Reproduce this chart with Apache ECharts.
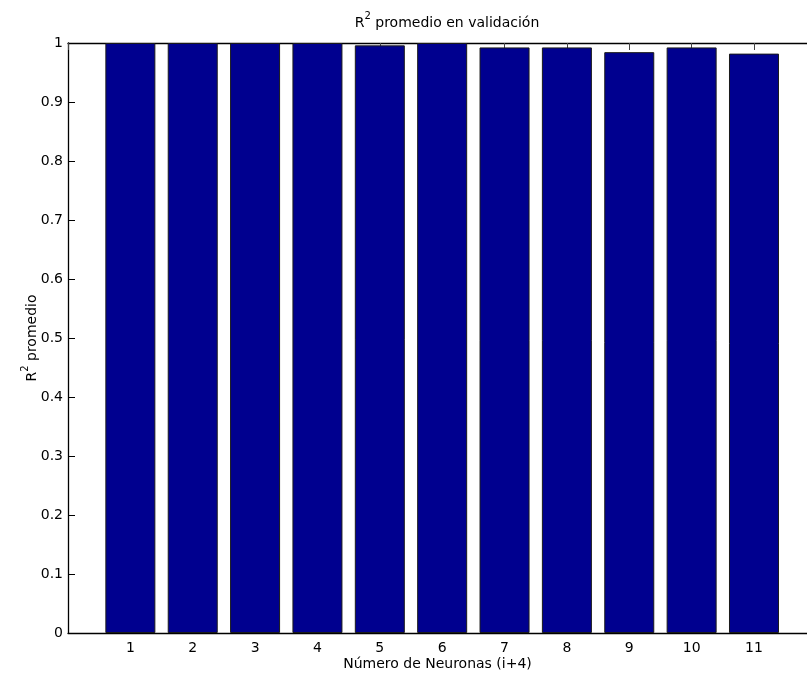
<!DOCTYPE html>
<html>
<head>
<meta charset="utf-8">
<script src="https://cdn.jsdelivr.net/npm/echarts@6/dist/echarts.min.js"></script>
<style>
  html, body { margin: 0; padding: 0; background: #fff; }
  #chart { width: 807px; height: 679px; }
</style>
</head>
<body>
<div id="chart"></div>
<script>
// Mean validation R² for each network size (neurons = i + 4)
const neuronIndex = [1, 2, 3, 4, 5, 6, 7, 8, 9, 10, 11];
const meanR2 = [1.0, 1.0, 1.0, 1.0, 0.996, 1.0, 0.9925, 0.9925, 0.9845, 0.9925, 0.982];
const yTicks = [0, 0.1, 0.2, 0.3, 0.4, 0.5, 0.6, 0.7, 0.8, 0.9, 1];

const FONT = "'DejaVu Sans', 'Liberation Sans', Arial, sans-serif";
const FS = 14;
const chart = echarts.init(document.getElementById('chart'), null, { renderer: 'canvas' });

const barData = neuronIndex.map((n, i) => [n, meanR2[i]]);

// x range runs past the right edge of the canvas, so the right frame is cut off
const X_MAX = 11.85;

const richR2 = {
  r: { fontFamily: FONT, fontSize: FS, color: '#000', fontWeight: 'normal', verticalAlign: 'bottom', lineHeight: 19 },
  s: { fontFamily: FONT, fontSize: 10, color: '#000', fontWeight: 'normal', verticalAlign: 'top', lineHeight: 19 }
};

chart.setOption({
  animation: false,
  backgroundColor: '#ffffff',
  textStyle: { fontFamily: FONT, color: '#000' },
  title: {
    text: '{r|R}{s|2}{r| promedio en validación}',
    left: 442,
    textAlign: 'center',
    top: 6,
    textStyle: { rich: richR2 }
  },
  grid: { left: 68, top: 43, right: 0, bottom: 46, containLabel: false },
  xAxis: [
    {
      type: 'value',
      position: 'bottom',
      min: 0,
      max: X_MAX,
      interval: 1,
      splitLine: { show: false },
      axisLine: { show: true, lineStyle: { color: '#000', width: 1.3 } },
      axisTick: { show: true, inside: true, length: 7, lineStyle: { color: '#000' } },
      axisLabel: {
        margin: 8,
        fontFamily: FONT,
        fontSize: FS,
        color: '#000',
        showMaxLabel: false,
        formatter: v => (neuronIndex.indexOf(v) >= 0 ? String(v) : '')
      },
      name: 'Número de Neuronas (i+4)',
      nameLocation: 'middle',
      nameGap: 24,
      nameMoveOverlap: false,
      nameTextStyle: { fontFamily: FONT, fontSize: FS, color: '#000' }
    },
    {
      type: 'value',
      position: 'top',
      min: 0,
      max: X_MAX,
      interval: 1,
      splitLine: { show: false },
      axisLine: { show: true, lineStyle: { color: '#000', width: 1.3 } },
      axisTick: { show: true, inside: true, length: 7, lineStyle: { color: '#444' } },
      axisLabel: { show: false }
    }
  ],
  yAxis: {
    type: 'value',
    min: 0,
    max: 1,
    interval: 0.1,
    splitLine: { show: false },
    axisLine: { show: true, lineStyle: { color: '#000', width: 1.3 } },
    axisTick: { show: true, inside: true, length: 7, lineStyle: { color: '#000' } },
    axisLabel: {
      margin: 5,
      fontFamily: FONT,
      fontSize: FS,
      color: '#000',
      formatter: v => {
        const t = yTicks.find(y => Math.abs(y - v) < 1e-9);
        return t === undefined ? '' : String(t);
      }
    },
    name: '{r|R}{s|2}{r| promedio}',
    nameLocation: 'middle',
    nameGap: 29,
    nameMoveOverlap: false,
    nameRotate: 90,
    nameTextStyle: { rich: richR2 }
  },
  series: [
    {
      type: 'bar',
      xAxisIndex: 0,
      data: barData,
      barWidth: 50,
      itemStyle: { color: '#00008f', borderColor: '#1a1a1a', borderWidth: 1 },
      z: 2
    }
  ]
});
</script>
</body>
</html>
